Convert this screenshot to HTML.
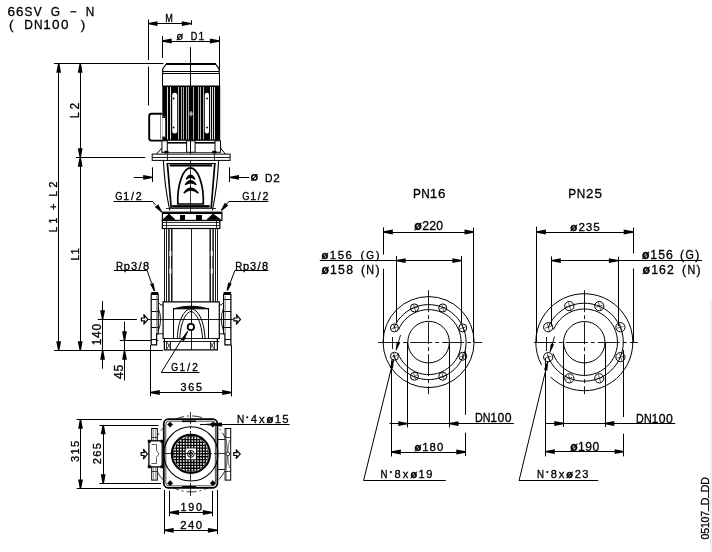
<!DOCTYPE html>
<html><head><meta charset="utf-8"><style>
html,body{margin:0;padding:0;background:#fff;}
svg{display:block;will-change:transform;}
text{font-family:"Liberation Sans",sans-serif;fill:#000;stroke:#000;stroke-width:0.32px;}
</style></head><body>
<svg width="712" height="552" viewBox="0 0 712 552">
<rect width="712" height="552" fill="#fff"/>
<text transform="translate(7.61,15.6) scale(1.0,1)" font-size="13.5">6</text><text transform="translate(15.94,15.6) scale(1.0,1)" font-size="13.5">6</text><text transform="translate(24.41,15.6) scale(0.88,1)" font-size="13.5">S</text><text transform="translate(33.83,15.6) scale(0.88,1)" font-size="13.5">V</text>
<text transform="translate(50.7,15.6) scale(0.88,1)" font-size="13.5">G</text>
<rect x="70.4" y="11.2" width="6" height="1.2" fill="#000" stroke="none" stroke-width="1" />
<text transform="translate(85.83,15.6) scale(0.88,1)" font-size="13.5">N</text>
<text transform="translate(9.06,28.9) scale(1.0,1)" font-size="13.5">(</text>
<text transform="translate(24.33,28.9) scale(0.88,1)" font-size="13.5">D</text><text transform="translate(33.96,28.9) scale(0.88,1)" font-size="13.5">N</text><text transform="translate(43.14,28.9) scale(1.0,1)" font-size="13.5">1</text><text transform="translate(52.07,28.9) scale(1.0,1)" font-size="13.5">0</text><text transform="translate(61.12,28.9) scale(1.0,1)" font-size="13.5">0</text>
<text transform="translate(80.72,28.9) scale(1.0,1)" font-size="13.5">)</text>
<line x1="54" y1="63.5" x2="163.5" y2="63.5" stroke="#000" stroke-width="1" />
<line x1="54" y1="350.5" x2="163" y2="350.5" stroke="#000" stroke-width="1" />
<line x1="58.5" y1="63.5" x2="58.5" y2="350.5" stroke="#000" stroke-width="1" />
<path d="M59.4,63.5 L61.1,72.8 L56.3,72.8 L58,63.5 Z" fill="#000"/>
<path d="M58,350.5 L56.3,341.2 L61.1,341.2 L59.4,350.5 Z" fill="#000"/>
<line x1="80.5" y1="63.5" x2="80.5" y2="350.5" stroke="#000" stroke-width="1" />
<path d="M80.9,63.5 L82.6,72.8 L77.8,72.8 L79.5,63.5 Z" fill="#000"/>
<path d="M79.5,157.5 L77.8,148.2 L82.6,148.2 L80.9,157.5 Z" fill="#000"/>
<path d="M80.9,157.5 L82.6,166.8 L77.8,166.8 L79.5,157.5 Z" fill="#000"/>
<path d="M79.5,350.5 L77.8,341.2 L82.6,341.2 L80.9,350.5 Z" fill="#000"/>
<line x1="75.9" y1="157.5" x2="145.1" y2="157.5" stroke="#000" stroke-width="1" />
<text transform="translate(79,117.1) rotate(-90) translate(-0.86,0) scale(0.88,1)" font-size="11.92">L</text><text transform="translate(79,117.1) rotate(-90) translate(7.57,0) scale(1.0,1)" font-size="11.92">2</text>
<text transform="translate(57.1,231.4) rotate(-90) translate(-0.81,0) scale(0.88,1)" font-size="11.19">L</text><text transform="translate(57.1,231.4) rotate(-90) translate(7.72,0) scale(1.0,1)" font-size="11.19">1</text><text transform="translate(57.1,231.4) rotate(-90) translate(21.3,0) scale(1.0,1)" font-size="11.19">+</text><text transform="translate(57.1,231.4) rotate(-90) translate(34.93,0) scale(0.88,1)" font-size="11.19">L</text><text transform="translate(57.1,231.4) rotate(-90) translate(43.74,0) scale(1.0,1)" font-size="11.19">2</text>
<text transform="translate(79,259.7) rotate(-90) translate(-0.82,0) scale(0.88,1)" font-size="11.34">L</text><text transform="translate(79,259.7) rotate(-90) translate(5.15,0) scale(1.0,1)" font-size="11.34">1</text>
<line x1="102.5" y1="301" x2="102.5" y2="368.7" stroke="#000" stroke-width="1" />
<path d="M101.9,319.5 L100.2,310.2 L105,310.2 L103.3,319.5 Z" fill="#000"/>
<path d="M103.3,350.5 L105,359.8 L100.2,359.8 L101.9,350.5 Z" fill="#000"/>
<line x1="97.7" y1="319.5" x2="135.7" y2="319.5" stroke="#000" stroke-width="1" />
<text transform="translate(101.3,344.3) rotate(-90) translate(-0.91,0) scale(1.0,1)" font-size="11.92">1</text><text transform="translate(101.3,344.3) rotate(-90) translate(6.39,0) scale(1.0,1)" font-size="11.92">4</text><text transform="translate(101.3,344.3) rotate(-90) translate(13.74,0) scale(1.0,1)" font-size="11.92">0</text>
<line x1="124.5" y1="321.7" x2="124.5" y2="380.5" stroke="#000" stroke-width="1" />
<path d="M123.8,340.5 L122.1,331.2 L126.9,331.2 L125.2,340.5 Z" fill="#000"/>
<path d="M125.2,350.5 L126.9,359.8 L122.1,359.8 L123.8,350.5 Z" fill="#000"/>
<line x1="119.8" y1="340.5" x2="158.3" y2="340.5" stroke="#000" stroke-width="1" />
<text transform="translate(123.4,378.7) rotate(-90) translate(-0.28,0) scale(1.0,1)" font-size="12.35">4</text><text transform="translate(123.4,378.7) rotate(-90) translate(7.25,0) scale(1.0,1)" font-size="12.35">5</text>
<line x1="148.5" y1="19.4" x2="148.5" y2="60" stroke="#000" stroke-width="1" />
<line x1="148.5" y1="66.6" x2="148.5" y2="105.6" stroke="#000" stroke-width="1" />
<line x1="191.5" y1="20.2" x2="191.5" y2="25" stroke="#000" stroke-width="1" />
<line x1="148.2" y1="23.5" x2="191.1" y2="23.5" stroke="#000" stroke-width="1" />
<path d="M148.2,22.9 L157.5,21.2 L157.5,26 L148.2,24.3 Z" fill="#000"/>
<path d="M191.1,24.3 L181.8,26 L181.8,21.2 L191.1,22.9 Z" fill="#000"/>
<text transform="translate(165.36,21.9) scale(0.88,1)" font-size="10.32">M</text>
<line x1="162.5" y1="36" x2="162.5" y2="58" stroke="#000" stroke-width="1" />
<line x1="219.5" y1="36.2" x2="219.5" y2="70" stroke="#000" stroke-width="1" />
<line x1="162.4" y1="41.5" x2="219.2" y2="41.5" stroke="#000" stroke-width="1" />
<path d="M162.4,40.3 L171.7,38.6 L171.7,43.4 L162.4,41.7 Z" fill="#000"/>
<path d="M219.2,41.7 L209.9,43.4 L209.9,38.6 L219.2,40.3 Z" fill="#000"/>
<text x="176.2" y="40" font-size="10.2" textLength="7" lengthAdjust="spacingAndGlyphs">ø</text>
<text transform="translate(190.66,40) scale(0.88,1)" font-size="10.32">D</text><text transform="translate(198.46,40) scale(1.0,1)" font-size="10.32">1</text>
<line x1="190.5" y1="47.2" x2="190.5" y2="86" stroke="#000" stroke-width="1" />
<line x1="152.5" y1="167.3" x2="152.5" y2="182" stroke="#000" stroke-width="1" />
<line x1="229.5" y1="167.3" x2="229.5" y2="182" stroke="#000" stroke-width="1" />
<line x1="133.8" y1="177.5" x2="152.5" y2="177.5" stroke="#000" stroke-width="1" />
<line x1="229.7" y1="177.5" x2="249.3" y2="177.5" stroke="#000" stroke-width="1" />
<path d="M152.5,178.1 L143.2,179.8 L143.2,175 L152.5,176.7 Z" fill="#000"/>
<path d="M229.7,176.7 L239,175 L239,179.8 L229.7,178.1 Z" fill="#000"/>
<circle cx="254.4" cy="177.4" r="2.7" stroke="#000" stroke-width="1.5" fill="none" />
<line x1="251.4" y1="180.6" x2="257.4" y2="174.2" stroke="#000" stroke-width="1.1" />
<text transform="translate(264.95,181.6) scale(0.88,1)" font-size="11.77">D</text><text transform="translate(273.14,181.6) scale(1.0,1)" font-size="11.77">2</text>
<text transform="translate(242.13,200.4) scale(0.88,1)" font-size="10.61">G</text><text transform="translate(250.17,200.4) scale(1.0,1)" font-size="10.61">1</text><text transform="translate(257.84,200.4) scale(1.0,1)" font-size="10.61">/</text><text transform="translate(262.53,200.4) scale(1.0,1)" font-size="10.61">2</text>
<line x1="228.5" y1="201.5" x2="268.4" y2="201.5" stroke="#000" stroke-width="1" />
<line x1="228.5" y1="201.8" x2="226" y2="204.8" stroke="#000" stroke-width="1" />
<path d="M220.81,210.28 L224.88,202.63 L228.29,205.41 L221.59,210.92 Z" fill="#000"/>
<text transform="translate(115.33,200.4) scale(0.88,1)" font-size="10.61">G</text><text transform="translate(123.34,200.4) scale(1.0,1)" font-size="10.61">1</text><text transform="translate(130.97,200.4) scale(1.0,1)" font-size="10.61">/</text><text transform="translate(135.63,200.4) scale(1.0,1)" font-size="10.61">2</text>
<line x1="113.5" y1="201.5" x2="152.9" y2="201.5" stroke="#000" stroke-width="1" />
<line x1="152.9" y1="201.8" x2="155.5" y2="205" stroke="#000" stroke-width="1" />
<path d="M161.51,212.52 L154.81,207.01 L158.22,204.23 L162.29,211.88 Z" fill="#000"/>
<text transform="translate(116,269.6) scale(0.88,1)" font-size="11.05">R</text><text transform="translate(123.78,269.6) scale(1.0,1)" font-size="11.05">p</text><text transform="translate(130.95,269.6) scale(1.0,1)" font-size="11.05">3</text><text transform="translate(138.53,269.6) scale(1.0,1)" font-size="11.05">/</text><text transform="translate(143.04,269.6) scale(1.0,1)" font-size="11.05">8</text>
<line x1="113.9" y1="270.5" x2="147.2" y2="270.5" stroke="#000" stroke-width="1" />
<line x1="147.2" y1="270.6" x2="151.5" y2="283" stroke="#000" stroke-width="1" />
<path d="M153.84,291.14 L150.02,284.03 L153.4,282.77 L155.16,290.66 Z" fill="#000"/>
<text transform="translate(235.2,269.6) scale(0.88,1)" font-size="11.05">R</text><text transform="translate(242.9,269.6) scale(1.0,1)" font-size="11.05">p</text><text transform="translate(250,269.6) scale(1.0,1)" font-size="11.05">3</text><text transform="translate(257.5,269.6) scale(1.0,1)" font-size="11.05">/</text><text transform="translate(261.94,269.6) scale(1.0,1)" font-size="11.05">8</text>
<line x1="234.8" y1="270.5" x2="268.3" y2="270.5" stroke="#000" stroke-width="1" />
<line x1="234.8" y1="270.6" x2="230.2" y2="283" stroke="#000" stroke-width="1" />
<path d="M226.54,290.26 L228.3,282.37 L231.68,283.63 L227.86,290.74 Z" fill="#000"/>
<line x1="150.5" y1="345" x2="150.5" y2="396.4" stroke="#000" stroke-width="1" />
<line x1="231.5" y1="345" x2="231.5" y2="396.4" stroke="#000" stroke-width="1" />
<line x1="150.5" y1="392.5" x2="231.5" y2="392.5" stroke="#000" stroke-width="1" />
<path d="M150.5,391.8 L159.8,390.1 L159.8,394.9 L150.5,393.2 Z" fill="#000"/>
<path d="M231.5,393.2 L222.2,394.9 L222.2,390.1 L231.5,391.8 Z" fill="#000"/>
<text transform="translate(180.49,390.7) scale(1.0,1)" font-size="10.76">3</text><text transform="translate(188.17,390.7) scale(1.0,1)" font-size="10.76">6</text><text transform="translate(195.97,390.7) scale(1.0,1)" font-size="10.76">5</text>
<text transform="translate(171.26,370.9) scale(0.88,1)" font-size="10.03">G</text><text transform="translate(179.38,370.9) scale(1.0,1)" font-size="10.03">1</text><text transform="translate(187.16,370.9) scale(1.0,1)" font-size="10.03">/</text><text transform="translate(192.13,370.9) scale(1.0,1)" font-size="10.03">2</text>
<line x1="161.3" y1="372.5" x2="199.5" y2="372.5" stroke="#000" stroke-width="1" />
<line x1="161.3" y1="372.4" x2="182.5" y2="338" stroke="#000" stroke-width="1" />
<path d="M187.5,331.5 L181.5,339.5 L183.8,340.5 Z" stroke="#000" stroke-width="1" fill="#000" />
<path d="M162.7,73.5 L162.7,69 L166.3,64 L215.5,64 L219.2,69 L219.2,73.5" stroke="#000" stroke-width="1.2" fill="none" />
<line x1="166" y1="64" x2="216" y2="64" stroke="#000" stroke-width="2" />
<line x1="162.7" y1="71.5" x2="219.2" y2="71.5" stroke="#000" stroke-width="1" />
<line x1="162.7" y1="73.5" x2="219.2" y2="73.5" stroke="#000" stroke-width="1" />
<line x1="162.5" y1="73.5" x2="162.5" y2="86" stroke="#000" stroke-width="1" />
<line x1="219.5" y1="73.5" x2="219.5" y2="86" stroke="#000" stroke-width="1" />
<rect x="162.3" y="85.5" width="57.9" height="55.3" fill="#000" stroke="none" stroke-width="1" />
<rect x="167" y="87" width="1" height="52.5" fill="#dcdcdc" stroke="none" stroke-width="1" />
<rect x="170" y="87" width="1" height="52.5" fill="#dcdcdc" stroke="none" stroke-width="1" />
<rect x="178" y="87" width="1" height="52.5" fill="#b0b0b0" stroke="none" stroke-width="1" />
<rect x="181" y="87" width="1" height="52.5" fill="#b0b0b0" stroke="none" stroke-width="1" />
<rect x="183" y="87" width="1" height="52.5" fill="#b0b0b0" stroke="none" stroke-width="1" />
<rect x="186" y="87" width="1" height="52.5" fill="#b0b0b0" stroke="none" stroke-width="1" />
<rect x="188" y="87" width="1" height="52.5" fill="#b0b0b0" stroke="none" stroke-width="1" />
<rect x="193" y="87" width="1" height="52.5" fill="#b0b0b0" stroke="none" stroke-width="1" />
<rect x="198" y="87" width="1" height="52.5" fill="#b0b0b0" stroke="none" stroke-width="1" />
<rect x="200" y="87" width="1" height="52.5" fill="#b0b0b0" stroke="none" stroke-width="1" />
<rect x="203" y="87" width="1" height="52.5" fill="#b0b0b0" stroke="none" stroke-width="1" />
<rect x="210" y="87" width="1" height="52.5" fill="#dcdcdc" stroke="none" stroke-width="1" />
<rect x="212" y="87" width="1" height="52.5" fill="#dcdcdc" stroke="none" stroke-width="1" />
<rect x="214" y="87" width="1" height="52.5" fill="#dcdcdc" stroke="none" stroke-width="1" />
<path d="M191,111 L193,113.8 L191,116.6 L189,113.8 Z" stroke="#888" stroke-width="0.5" fill="#aaa" />
<rect x="172.2" y="92.8" width="5" height="40.6" fill="#fff" stroke="none" stroke-width="1" rx="2.5"/>
<rect x="204.8" y="92.8" width="4.2" height="40.6" fill="#fff" stroke="none" stroke-width="1" rx="2"/>
<circle cx="173.6" cy="98.5" r="0.9" stroke="#000" stroke-width="0" fill="#000" />
<circle cx="173.6" cy="127.5" r="0.9" stroke="#000" stroke-width="0" fill="#000" />
<circle cx="207" cy="98.5" r="0.9" stroke="#000" stroke-width="0" fill="#000" />
<circle cx="207" cy="127.5" r="0.9" stroke="#000" stroke-width="0" fill="#000" />
<path d="M162,113.7 L151.5,113.7 Q149.2,113.7 149.2,116 L149.2,138.6 Q149.2,140.6 151.5,140.6 L162,140.6" stroke="#000" stroke-width="1.9" fill="#fff" />
<line x1="160.5" y1="115" x2="160.5" y2="139.5" stroke="#888" stroke-width="1" />
<rect x="162.3" y="116.7" width="2.9" height="21.1" fill="#fff" stroke="none" stroke-width="1" />
<rect x="162.3" y="116.7" width="2.9" height="1.2" fill="#000" stroke="none" stroke-width="1" />
<rect x="162.3" y="136.6" width="2.9" height="1.2" fill="#000" stroke="none" stroke-width="1" />
<rect x="161.9" y="140.8" width="5.4" height="11.5" fill="#fff" stroke="#000" stroke-width="1" />
<rect x="186.6" y="140.8" width="8.5" height="11.5" fill="#fff" stroke="#000" stroke-width="1" />
<rect x="215" y="140.8" width="5.5" height="11.5" fill="#fff" stroke="#000" stroke-width="1" />
<line x1="167.3" y1="142.8" x2="186.6" y2="142.8" stroke="#000" stroke-width="1.6" />
<line x1="195.1" y1="142.8" x2="215" y2="142.8" stroke="#000" stroke-width="1.6" />
<line x1="156.5" y1="154" x2="161.9" y2="148" stroke="#000" stroke-width="1" />
<line x1="225.3" y1="154" x2="220.5" y2="148" stroke="#000" stroke-width="1" />
<line x1="167.3" y1="152.5" x2="186.6" y2="152.5" stroke="#000" stroke-width="0.7" />
<line x1="195.1" y1="152.5" x2="215" y2="152.5" stroke="#000" stroke-width="0.7" />
<rect x="164.5" y="150.8" width="4" height="2.6" fill="#000" stroke="none" stroke-width="1" />
<rect x="212.3" y="150.8" width="4" height="2.6" fill="#000" stroke="none" stroke-width="1" />
<line x1="190.5" y1="140" x2="190.5" y2="160" stroke="#000" stroke-width="1" />
<rect x="152.2" y="154.1" width="77.9" height="6.3" fill="#fff" stroke="#000" stroke-width="1" />
<line x1="152.2" y1="157.5" x2="230.1" y2="157.5" stroke="#000" stroke-width="0.9" />
<line x1="167.5" y1="154" x2="167.5" y2="160.4" stroke="#000" stroke-width="0.8" />
<line x1="214.5" y1="154" x2="214.5" y2="160.4" stroke="#000" stroke-width="0.8" />
<path d="M163.4,160.4 Q164.5,186 169.8,210.5" stroke="#000" stroke-width="1.1" fill="none" />
<path d="M218.6,160.4 Q217.5,186 212.4,210.5" stroke="#000" stroke-width="1.1" fill="none" />
<line x1="166.6" y1="163.5" x2="215.8" y2="163.5" stroke="#000" stroke-width="1" />
<line x1="169.7" y1="165.4" x2="212.2" y2="165.4" stroke="#000" stroke-width="2.2" />
<path d="M167.4,163.6 L171.2,208" stroke="#000" stroke-width="1.7" fill="none" />
<path d="M214.8,163.6 L211.2,208" stroke="#000" stroke-width="1.7" fill="none" />
<path d="M177.8,204 C177,185 183,168 190.4,167.8 C198,168 204,185 203.3,204 Z" stroke="#000" stroke-width="1.7" fill="none" />
<path d="M186.2,179.2 Q190.5,171.3 195.0,179.2 Q190.5,175.3 186.2,179.2 Z" stroke="#000" stroke-width="1.3" fill="#000" />
<path d="M185.2,184.8 Q190.5,176.7 196.2,184.8 Q190.5,180.7 185.2,184.8 Z" stroke="#000" stroke-width="1.3" fill="#000" />
<path d="M183.8,193.2 Q190.5,182.9 198.4,193.2 Q190.5,186.9 183.8,193.2 Z" stroke="#000" stroke-width="1.3" fill="#000" />
<line x1="190.5" y1="160" x2="190.5" y2="212" stroke="#000" stroke-width="0.8" />
<rect x="172.2" y="205.1" width="37.5" height="2.6" fill="#000" stroke="none" stroke-width="1" />
<line x1="166" y1="208.5" x2="216" y2="208.5" stroke="#000" stroke-width="0.8" />
<rect x="162.4" y="212.2" width="59.5" height="1.8" fill="#000" stroke="none" stroke-width="1" />
<path d="M163,219.5 L169,214 L175,219.5 Z" stroke="#000" stroke-width="0.8" fill="#000" />
<path d="M207,219.5 L213,214 L220.5,219.5 Z" stroke="#000" stroke-width="0.8" fill="#000" />
<rect x="162.4" y="212.2" width="59.5" height="8.3" fill="none" stroke="#000" stroke-width="1.2" />
<rect x="180" y="215" width="5" height="5" fill="#000" stroke="none" stroke-width="1" />
<rect x="196" y="215" width="6" height="5" fill="#000" stroke="none" stroke-width="1" />
<rect x="162.4" y="220.5" width="57.4" height="8" fill="#fff" stroke="#000" stroke-width="1.2" />
<line x1="162.4" y1="222.5" x2="219.8" y2="222.5" stroke="#000" stroke-width="0.8" />
<line x1="162.4" y1="225.5" x2="219.8" y2="225.5" stroke="#000" stroke-width="0.8" />
<line x1="166.5" y1="220.5" x2="166.5" y2="228.5" stroke="#000" stroke-width="0.8" />
<line x1="216.5" y1="220.5" x2="216.5" y2="228.5" stroke="#000" stroke-width="0.8" />
<line x1="164.5" y1="228.5" x2="164.5" y2="301.8" stroke="#000" stroke-width="0.9" />
<line x1="166.5" y1="228.5" x2="166.5" y2="301.8" stroke="#000" stroke-width="0.9" />
<line x1="168.9" y1="228.5" x2="168.9" y2="301.8" stroke="#000" stroke-width="1.4" />
<line x1="171.8" y1="228.5" x2="171.8" y2="301.8" stroke="#000" stroke-width="1.4" />
<line x1="210.2" y1="228.5" x2="210.2" y2="301.8" stroke="#000" stroke-width="1.4" />
<line x1="213.1" y1="228.5" x2="213.1" y2="301.8" stroke="#000" stroke-width="1.4" />
<line x1="215.5" y1="228.5" x2="215.5" y2="301.8" stroke="#000" stroke-width="0.9" />
<line x1="217.5" y1="228.5" x2="217.5" y2="301.8" stroke="#000" stroke-width="0.9" />
<rect x="169.4" y="251" width="2" height="5" fill="#fff" stroke="none" stroke-width="1" />
<rect x="210.7" y="251" width="2" height="5" fill="#fff" stroke="none" stroke-width="1" />
<rect x="169.4" y="268.5" width="2" height="5" fill="#fff" stroke="none" stroke-width="1" />
<rect x="210.7" y="268.5" width="2" height="5" fill="#fff" stroke="none" stroke-width="1" />
<line x1="191.5" y1="228.5" x2="191.5" y2="350" stroke="#000" stroke-width="0.9" />
<path d="M163.1,301.8 L219.3,301.8 L219.3,338.5 L217.4,338.5 L217.4,349.8 L164.4,349.8 L164.4,338.5 L163.1,338.5 Z" stroke="#000" stroke-width="1.2" fill="none" />
<line x1="163.1" y1="338.5" x2="219.3" y2="338.5" stroke="#000" stroke-width="0.9" />
<line x1="163.1" y1="341.5" x2="219.3" y2="341.5" stroke="#000" stroke-width="0.9" />
<line x1="173.5" y1="308" x2="173.5" y2="338.6" stroke="#000" stroke-width="1" />
<line x1="208.5" y1="308" x2="208.5" y2="338.6" stroke="#000" stroke-width="1" />
<path d="M173.4,308.8 Q190.9,303.5 208.3,308.8 Z" stroke="#000" stroke-width="1" fill="#000" />
<path d="M177.3,338.6 C178,320 184,309 190.9,308.9 C198,309 204,320 205.1,338.6" stroke="#000" stroke-width="1" fill="none" />
<path d="M179.8,338.6 C180.5,322 186,312 190.9,311.5 C196,312 201.5,322 202.6,338.6" stroke="#000" stroke-width="1" fill="none" />
<circle cx="190.9" cy="327" r="3.2" stroke="#000" stroke-width="1.8" fill="#fff" />
<line x1="166.5" y1="341.5" x2="166.5" y2="349.5" stroke="#000" stroke-width="0.8" />
<line x1="170.5" y1="341.5" x2="170.5" y2="349.5" stroke="#000" stroke-width="0.8" />
<line x1="166.9" y1="342" x2="170.9" y2="349" stroke="#000" stroke-width="0.7" />
<line x1="170.9" y1="342" x2="166.9" y2="349" stroke="#000" stroke-width="0.7" />
<line x1="210.5" y1="341.5" x2="210.5" y2="349.5" stroke="#000" stroke-width="0.8" />
<line x1="214.5" y1="341.5" x2="214.5" y2="349.5" stroke="#000" stroke-width="0.8" />
<line x1="210.2" y1="342" x2="214.2" y2="349" stroke="#000" stroke-width="0.7" />
<line x1="214.2" y1="342" x2="210.2" y2="349" stroke="#000" stroke-width="0.7" />
<path d="M151.2,294.4 L158.2,294.4 L158.2,333.8 L156.6,333.8 L156.6,344.8 L151.2,344.8 Z" stroke="#000" stroke-width="1.2" fill="#fff" />
<rect x="151.2" y="292" width="7" height="2.6" fill="#000" stroke="none" stroke-width="1" />
<line x1="151.2" y1="299.5" x2="158.2" y2="299.5" stroke="#000" stroke-width="1" />
<line x1="151.2" y1="311.5" x2="158.2" y2="311.5" stroke="#000" stroke-width="1" />
<line x1="151.2" y1="319.5" x2="158.2" y2="319.5" stroke="#000" stroke-width="1" />
<line x1="151.2" y1="327.5" x2="158.2" y2="327.5" stroke="#000" stroke-width="1" />
<line x1="151.2" y1="339.5" x2="156.6" y2="339.5" stroke="#000" stroke-width="1" />
<line x1="156.5" y1="296" x2="156.5" y2="333" stroke="#777" stroke-width="0.7" />
<path d="M230.9,294.4 L223.6,294.4 L223.6,333.8 L224.9,333.8 L224.9,344.8 L230.9,344.8 Z" stroke="#000" stroke-width="1.2" fill="#fff" />
<rect x="223.6" y="292" width="7.3" height="2.6" fill="#000" stroke="none" stroke-width="1" />
<line x1="223.6" y1="299.5" x2="230.9" y2="299.5" stroke="#000" stroke-width="1" />
<line x1="223.6" y1="311.5" x2="230.9" y2="311.5" stroke="#000" stroke-width="1" />
<line x1="223.6" y1="319.5" x2="230.9" y2="319.5" stroke="#000" stroke-width="1" />
<line x1="223.6" y1="327.5" x2="230.9" y2="327.5" stroke="#000" stroke-width="1" />
<line x1="224.9" y1="339.5" x2="230.9" y2="339.5" stroke="#000" stroke-width="1" />
<line x1="225.5" y1="296" x2="225.5" y2="333" stroke="#777" stroke-width="0.7" />
<path d="M158.2,302.5 L161,305 L163.1,305 M158.2,333.8 L163.1,333.8" stroke="#000" stroke-width="0.9" fill="none" />
<path d="M223.6,302.5 L221,305 L219.3,305 M223.6,333.8 L219.3,333.8" stroke="#000" stroke-width="0.9" fill="none" />
<path d="M158.2,308 Q163,319.6 158.2,331" stroke="#000" stroke-width="0.9" fill="none" />
<path d="M223.6,308 Q219,319.6 223.6,331" stroke="#000" stroke-width="0.9" fill="none" />
<line x1="133" y1="319.5" x2="137" y2="319.5" stroke="#000" stroke-width="0.9" />
<line x1="148" y1="319.5" x2="233" y2="319.5" stroke="#000" stroke-width="0.9" />
<path d="M141.4,318 L144.48,318 L143.68,314.4 L147.9,319.4 L143.68,324.4 L144.48,320.8 L141.4,320.8 Z" stroke="#000" stroke-width="1.2" fill="#fff" />
<path d="M234,318 L237.08,318 L236.28,314.4 L240.5,319.4 L236.28,324.4 L237.08,320.8 L234,320.8 Z" stroke="#000" stroke-width="1.2" fill="#fff" />
<line x1="76.7" y1="419.5" x2="161.9" y2="419.5" stroke="#000" stroke-width="1" />
<line x1="76.7" y1="488.5" x2="161" y2="488.5" stroke="#000" stroke-width="1" />
<line x1="80.5" y1="419.4" x2="80.5" y2="488.8" stroke="#000" stroke-width="1" />
<path d="M81.2,419.4 L82.9,428.7 L78.1,428.7 L79.8,419.4 Z" fill="#000"/>
<path d="M79.8,488.8 L78.1,479.5 L82.9,479.5 L81.2,488.8 Z" fill="#000"/>
<text transform="translate(79.3,461.5) rotate(-90) translate(-0.42,0) scale(1.0,1)" font-size="11.05">3</text><text transform="translate(79.3,461.5) rotate(-90) translate(6.88,0) scale(1.0,1)" font-size="11.05">1</text><text transform="translate(79.3,461.5) rotate(-90) translate(14.52,0) scale(1.0,1)" font-size="11.05">5</text>
<line x1="99.5" y1="425.5" x2="158.5" y2="425.5" stroke="#000" stroke-width="1" />
<line x1="99.5" y1="483.5" x2="160.9" y2="483.5" stroke="#000" stroke-width="1" />
<line x1="103.5" y1="425" x2="103.5" y2="483.6" stroke="#000" stroke-width="1" />
<path d="M103.9,425 L105.6,434.3 L100.8,434.3 L102.5,425 Z" fill="#000"/>
<path d="M102.5,483.6 L100.8,474.3 L105.6,474.3 L103.9,483.6 Z" fill="#000"/>
<text transform="translate(101.2,463.7) rotate(-90) translate(-0.56,0) scale(1.0,1)" font-size="11.05">2</text><text transform="translate(101.2,463.7) rotate(-90) translate(6.89,0) scale(1.0,1)" font-size="11.05">6</text><text transform="translate(101.2,463.7) rotate(-90) translate(14.52,0) scale(1.0,1)" font-size="11.05">5</text>
<line x1="169.5" y1="490.9" x2="169.5" y2="516.3" stroke="#000" stroke-width="1" />
<line x1="212.5" y1="490.9" x2="212.5" y2="516.3" stroke="#000" stroke-width="1" />
<line x1="169.7" y1="512.5" x2="212.1" y2="512.5" stroke="#000" stroke-width="1" />
<path d="M169.7,511.8 L179,510.1 L179,514.9 L169.7,513.2 Z" fill="#000"/>
<path d="M212.1,513.2 L202.8,514.9 L202.8,510.1 L212.1,511.8 Z" fill="#000"/>
<text transform="translate(180.58,510.6) scale(1.0,1)" font-size="10.76">1</text><text transform="translate(188.21,510.6) scale(1.0,1)" font-size="10.76">9</text><text transform="translate(195.94,510.6) scale(1.0,1)" font-size="10.76">0</text>
<line x1="164.5" y1="490" x2="164.5" y2="534.1" stroke="#000" stroke-width="1" />
<line x1="217.5" y1="490" x2="217.5" y2="534.1" stroke="#000" stroke-width="1" />
<line x1="164.4" y1="530.5" x2="217.2" y2="530.5" stroke="#000" stroke-width="1" />
<path d="M164.4,529.6 L173.7,527.9 L173.7,532.7 L164.4,531 Z" fill="#000"/>
<path d="M217.2,531 L207.9,532.7 L207.9,527.9 L217.2,529.6 Z" fill="#000"/>
<text transform="translate(180.33,528.7) scale(1.0,1)" font-size="11.34">2</text><text transform="translate(187.96,528.7) scale(1.0,1)" font-size="11.34">4</text><text transform="translate(195.64,528.7) scale(1.0,1)" font-size="11.34">0</text>
<circle cx="190.9" cy="453.9" r="38" stroke="#000" stroke-width="0.8" fill="none" stroke-dasharray="10,3,2,3"/>
<rect x="163.8" y="419.2" width="53.6" height="68.6" fill="#fff" stroke="#000" stroke-width="1.8" rx="4.5"/>
<rect x="165.8" y="421.2" width="49.6" height="64.6" fill="none" stroke="#000" stroke-width="0.7" rx="3"/>
<path d="M167.5,424.6 L170.1,422.0 L172.7,424.6 L170.1,427.20000000000005 Z" stroke="#000" stroke-width="0.6" fill="#000" />
<path d="M210.20000000000002,424.6 L212.8,422.0 L215.4,424.6 L212.8,427.20000000000005 Z" stroke="#000" stroke-width="0.6" fill="#000" />
<path d="M167.5,483.2 L170.1,480.59999999999997 L172.7,483.2 L170.1,485.8 Z" stroke="#000" stroke-width="0.6" fill="#000" />
<path d="M210.20000000000002,483.2 L212.8,480.59999999999997 L215.4,483.2 L212.8,485.8 Z" stroke="#000" stroke-width="0.6" fill="#000" />
<rect x="182" y="420.5" width="14" height="1.6" fill="#000" stroke="none" stroke-width="1" />
<rect x="182" y="486" width="14" height="1.6" fill="#000" stroke="none" stroke-width="1" />
<circle cx="190.9" cy="453.9" r="27.1" stroke="#000" stroke-width="1.1" fill="none" />
<clipPath id="gc"><circle cx="190.9" cy="453.9" r="17.6"/></clipPath>
<g clip-path="url(#gc)"><line x1="170.81" y1="434" x2="170.81" y2="474" stroke="#000" stroke-width="1.3"/><line x1="171" y1="433.81" x2="211" y2="433.81" stroke="#000" stroke-width="1.3"/><line x1="173.68" y1="434" x2="173.68" y2="474" stroke="#000" stroke-width="1.3"/><line x1="171" y1="436.68" x2="211" y2="436.68" stroke="#000" stroke-width="1.3"/><line x1="176.55" y1="434" x2="176.55" y2="474" stroke="#000" stroke-width="1.3"/><line x1="171" y1="439.55" x2="211" y2="439.55" stroke="#000" stroke-width="1.3"/><line x1="179.42" y1="434" x2="179.42" y2="474" stroke="#000" stroke-width="1.3"/><line x1="171" y1="442.42" x2="211" y2="442.42" stroke="#000" stroke-width="1.3"/><line x1="182.29" y1="434" x2="182.29" y2="474" stroke="#000" stroke-width="1.3"/><line x1="171" y1="445.29" x2="211" y2="445.29" stroke="#000" stroke-width="1.3"/><line x1="185.16" y1="434" x2="185.16" y2="474" stroke="#000" stroke-width="1.3"/><line x1="171" y1="448.16" x2="211" y2="448.16" stroke="#000" stroke-width="1.3"/><line x1="188.03" y1="434" x2="188.03" y2="474" stroke="#000" stroke-width="1.3"/><line x1="171" y1="451.03" x2="211" y2="451.03" stroke="#000" stroke-width="1.3"/><line x1="190.9" y1="434" x2="190.9" y2="474" stroke="#000" stroke-width="1.3"/><line x1="171" y1="453.9" x2="211" y2="453.9" stroke="#000" stroke-width="1.3"/><line x1="193.77" y1="434" x2="193.77" y2="474" stroke="#000" stroke-width="1.3"/><line x1="171" y1="456.77" x2="211" y2="456.77" stroke="#000" stroke-width="1.3"/><line x1="196.64" y1="434" x2="196.64" y2="474" stroke="#000" stroke-width="1.3"/><line x1="171" y1="459.64" x2="211" y2="459.64" stroke="#000" stroke-width="1.3"/><line x1="199.51" y1="434" x2="199.51" y2="474" stroke="#000" stroke-width="1.3"/><line x1="171" y1="462.51" x2="211" y2="462.51" stroke="#000" stroke-width="1.3"/><line x1="202.38" y1="434" x2="202.38" y2="474" stroke="#000" stroke-width="1.3"/><line x1="171" y1="465.38" x2="211" y2="465.38" stroke="#000" stroke-width="1.3"/><line x1="205.25" y1="434" x2="205.25" y2="474" stroke="#000" stroke-width="1.3"/><line x1="171" y1="468.25" x2="211" y2="468.25" stroke="#000" stroke-width="1.3"/><line x1="208.12" y1="434" x2="208.12" y2="474" stroke="#000" stroke-width="1.3"/><line x1="171" y1="471.12" x2="211" y2="471.12" stroke="#000" stroke-width="1.3"/><line x1="210.99" y1="434" x2="210.99" y2="474" stroke="#000" stroke-width="1.3"/><line x1="171" y1="473.99" x2="211" y2="473.99" stroke="#000" stroke-width="1.3"/></g>
<circle cx="190.9" cy="453.9" r="19" stroke="#000" stroke-width="2.2" fill="none" />
<rect x="185.8" y="448.5" width="10.1" height="10.8" fill="#fff" stroke="none" stroke-width="1" />
<circle cx="190.9" cy="453.9" r="3.4" stroke="#000" stroke-width="1" fill="none" />
<circle cx="190.9" cy="453.9" r="1.6" stroke="#000" stroke-width="0.9" fill="none" />
<line x1="162" y1="453.5" x2="225" y2="453.5" stroke="#000" stroke-width="0.8" stroke-dasharray="12,2,3,2"/>
<line x1="190.5" y1="412" x2="190.5" y2="496" stroke="#000" stroke-width="0.8" stroke-dasharray="12,2,3,2"/>
<rect x="151.7" y="428.5" width="5.6" height="51.6" fill="#fff" stroke="#000" stroke-width="1" />
<line x1="153.5" y1="429" x2="153.5" y2="480" stroke="#666" stroke-width="0.6" />
<line x1="155.5" y1="429" x2="155.5" y2="480" stroke="#666" stroke-width="0.6" />
<line x1="151.9" y1="437.5" x2="157.3" y2="437.5" stroke="#000" stroke-width="0.7" />
<line x1="151.9" y1="471.5" x2="157.3" y2="471.5" stroke="#000" stroke-width="0.7" />
<rect x="148.9" y="440.8" width="13.3" height="26.1" fill="#fff" stroke="#000" stroke-width="1.3" />
<rect x="147.8" y="439.8" width="3" height="3" fill="#000" stroke="none" stroke-width="1" />
<rect x="147.8" y="465.2" width="3" height="3" fill="#000" stroke="none" stroke-width="1" />
<rect x="160.5" y="439.8" width="2.5" height="3" fill="#000" stroke="none" stroke-width="1" />
<rect x="160.5" y="465.2" width="2.5" height="3" fill="#000" stroke="none" stroke-width="1" />
<path d="M151.5,444.5 L156.5,444.5 L156.5,450.5 L159,453.9 L156.5,457.3 L156.5,463.5 L151.5,463.5" stroke="#333" stroke-width="0.8" fill="none" />
<line x1="162.2" y1="444.5" x2="163.8" y2="444.5" stroke="#000" stroke-width="0.8" />
<line x1="162.2" y1="464.5" x2="163.8" y2="464.5" stroke="#000" stroke-width="0.8" />
<rect x="225.1" y="428.5" width="5.6" height="51.6" fill="#fff" stroke="#000" stroke-width="1" />
<line x1="226.5" y1="429" x2="226.5" y2="480" stroke="#666" stroke-width="0.6" />
<line x1="225.1" y1="437.5" x2="230.7" y2="437.5" stroke="#000" stroke-width="0.7" />
<line x1="225.1" y1="471.5" x2="230.7" y2="471.5" stroke="#000" stroke-width="0.7" />
<line x1="217.4" y1="439.5" x2="225.1" y2="439.5" stroke="#000" stroke-width="0.9" />
<line x1="217.4" y1="469.5" x2="225.1" y2="469.5" stroke="#000" stroke-width="0.9" />
<path d="M226,440 Q229.5,454 226,468 M229.5,440 Q226,454 229.5,468" stroke="#444" stroke-width="0.7" fill="none" />
<circle cx="227.8" cy="453.9" r="1.8" stroke="#000" stroke-width="0.8" fill="#fff" />
<text transform="translate(236.98,423.2) scale(0.88,1)" font-size="11.34">N</text><circle cx="247.25" cy="417.27" r="1.05" fill="#000"/><text transform="translate(250.87,423.2) scale(1.0,1)" font-size="11.34">4</text><text transform="translate(259,423.2) scale(1.0,1)" font-size="11.34">x</text><text transform="translate(266.59,423.2) scale(1.0,1)" font-size="11.34"><tspan font-weight="bold">ø</tspan></text><text transform="translate(274.68,423.2) scale(1.0,1)" font-size="11.34">1</text><text transform="translate(282.27,423.2) scale(1.0,1)" font-size="11.34">5</text>
<line x1="200" y1="424.5" x2="289.6" y2="424.5" stroke="#000" stroke-width="1" />
<path d="M200,424.4 L222,422.4 L222,426.4 Z" fill="#000"/>
<path d="M141.2,452.7 L144.17,452.7 L143.37,449.1 L147.4,454.1 L143.37,459.1 L144.17,455.5 L141.2,455.5 Z" stroke="#000" stroke-width="1.2" fill="#fff" />
<path d="M233.8,452.7 L236.84,452.7 L236.04,449.6 L240.2,454.1 L236.04,458.6 L236.84,455.5 L233.8,455.5 Z" stroke="#000" stroke-width="1.2" fill="#fff" />
<text transform="translate(412.93,197.5) scale(0.88,1)" font-size="13.37">P</text><text transform="translate(421.24,197.5) scale(0.88,1)" font-size="13.37">N</text><text transform="translate(429.8,197.5) scale(1.0,1)" font-size="13.37">1</text><text transform="translate(437.95,197.5) scale(1.0,1)" font-size="13.37">6</text>
<circle cx="428.6" cy="342.1" r="45.5" stroke="#000" stroke-width="1" fill="none" />
<path d="M393.83,328.05 A37.5,37.5 0 1 1 393.36,354.93" stroke="#000" stroke-width="1" fill="none" />
<path d="M398.47,329.93 A32.5,32.5 0 1 1 398.06,353.22" stroke="#000" stroke-width="1" fill="none" />
<circle cx="428.6" cy="342.1" r="20.8" stroke="#000" stroke-width="1" fill="none" />
<circle cx="442.76" cy="307.92" r="4" stroke="#000" stroke-width="1" fill="none" />
<line x1="439.96" y1="308.72" x2="445.56" y2="307.12" stroke="#000" stroke-width="0.6" />
<line x1="441.96" y1="304.72" x2="443.96" y2="311.12" stroke="#000" stroke-width="0.6" />
<circle cx="462.78" cy="327.94" r="4" stroke="#000" stroke-width="1" fill="none" />
<line x1="459.98" y1="328.74" x2="465.58" y2="327.14" stroke="#000" stroke-width="0.6" />
<line x1="461.98" y1="324.74" x2="463.98" y2="331.14" stroke="#000" stroke-width="0.6" />
<circle cx="462.78" cy="356.26" r="4" stroke="#000" stroke-width="1" fill="none" />
<line x1="459.98" y1="357.06" x2="465.58" y2="355.46" stroke="#000" stroke-width="0.6" />
<line x1="461.98" y1="353.06" x2="463.98" y2="359.46" stroke="#000" stroke-width="0.6" />
<circle cx="442.76" cy="376.28" r="4" stroke="#000" stroke-width="1" fill="none" />
<line x1="439.96" y1="377.08" x2="445.56" y2="375.48" stroke="#000" stroke-width="0.6" />
<line x1="441.96" y1="373.08" x2="443.96" y2="379.48" stroke="#000" stroke-width="0.6" />
<circle cx="414.44" cy="376.28" r="4" stroke="#000" stroke-width="1" fill="none" />
<line x1="411.64" y1="377.08" x2="417.24" y2="375.48" stroke="#000" stroke-width="0.6" />
<line x1="413.64" y1="373.08" x2="415.64" y2="379.48" stroke="#000" stroke-width="0.6" />
<circle cx="394.42" cy="356.26" r="4" stroke="#000" stroke-width="1" fill="none" />
<line x1="391.62" y1="357.06" x2="397.22" y2="355.46" stroke="#000" stroke-width="0.6" />
<line x1="393.62" y1="353.06" x2="395.62" y2="359.46" stroke="#000" stroke-width="0.6" />
<circle cx="394.42" cy="327.94" r="4" stroke="#000" stroke-width="1" fill="none" />
<line x1="391.62" y1="328.74" x2="397.22" y2="327.14" stroke="#000" stroke-width="0.6" />
<line x1="393.62" y1="324.74" x2="395.62" y2="331.14" stroke="#000" stroke-width="0.6" />
<circle cx="414.44" cy="307.92" r="4" stroke="#000" stroke-width="1" fill="none" />
<line x1="411.64" y1="308.72" x2="417.24" y2="307.12" stroke="#000" stroke-width="0.6" />
<line x1="413.64" y1="304.72" x2="415.64" y2="311.12" stroke="#000" stroke-width="0.6" />
<line x1="378.1" y1="342.5" x2="482.1" y2="342.5" stroke="#000" stroke-width="0.9" stroke-dasharray="22,3,4,3"/>
<line x1="428.5" y1="290.1" x2="428.5" y2="394.1" stroke="#000" stroke-width="0.9" stroke-dasharray="22,3,4,3"/>
<line x1="383.5" y1="227.4" x2="383.5" y2="254.5" stroke="#000" stroke-width="1" />
<line x1="383.5" y1="268.7" x2="383.5" y2="342" stroke="#000" stroke-width="1" />
<line x1="473.5" y1="227.6" x2="473.5" y2="342" stroke="#000" stroke-width="1" />
<line x1="383.5" y1="232.5" x2="473.8" y2="232.5" stroke="#000" stroke-width="1" />
<path d="M383.5,231.3 L392.8,229.6 L392.8,234.4 L383.5,232.7 Z" fill="#000"/>
<path d="M473.8,232.7 L464.5,234.4 L464.5,229.6 L473.8,231.3 Z" fill="#000"/>
<text transform="translate(414.24,230.4) scale(1.0,1)" font-size="12.21"><tspan font-weight="bold">ø</tspan></text><text transform="translate(422.21,230.4) scale(1.0,1)" font-size="12.21">2</text><text transform="translate(429.18,230.4) scale(1.0,1)" font-size="12.21">2</text><text transform="translate(436.29,230.4) scale(1.0,1)" font-size="12.21">0</text>
<line x1="396.5" y1="256" x2="396.5" y2="323" stroke="#000" stroke-width="1" />
<line x1="461.5" y1="256" x2="461.5" y2="323" stroke="#000" stroke-width="1" />
<line x1="319.8" y1="260.5" x2="461.7" y2="260.5" stroke="#000" stroke-width="1" />
<path d="M396.3,259.9 L405.6,258.2 L405.6,263 L396.3,261.3 Z" fill="#000"/>
<path d="M461.7,261.3 L452.4,263 L452.4,258.2 L461.7,259.9 Z" fill="#000"/>
<text transform="translate(321.56,259.3) scale(1.0,1)" font-size="11.34"><tspan font-weight="bold">ø</tspan></text><text transform="translate(329.86,259.3) scale(1.0,1)" font-size="11.34">1</text><text transform="translate(337.67,259.3) scale(1.0,1)" font-size="11.34">5</text><text transform="translate(345.43,259.3) scale(1.0,1)" font-size="11.34">6</text><text transform="translate(360.56,259.3) scale(1.0,1)" font-size="11.34">(</text><text transform="translate(366.27,259.3) scale(0.88,1)" font-size="11.34">G</text><text transform="translate(375.73,259.3) scale(1.0,1)" font-size="11.34">)</text>
<text transform="translate(321.54,273.9) scale(1.0,1)" font-size="12.21"><tspan font-weight="bold">ø</tspan></text><text transform="translate(330.1,273.9) scale(1.0,1)" font-size="12.21">1</text><text transform="translate(338.12,273.9) scale(1.0,1)" font-size="12.21">5</text><text transform="translate(346.18,273.9) scale(1.0,1)" font-size="12.21">8</text><text transform="translate(360.94,273.9) scale(1.0,1)" font-size="12.21">(</text><text transform="translate(366.37,273.9) scale(0.88,1)" font-size="12.21">N</text><text transform="translate(375.49,273.9) scale(1.0,1)" font-size="12.21">)</text>
<line x1="407.5" y1="342" x2="407.5" y2="427.4" stroke="#000" stroke-width="1" />
<line x1="449.5" y1="342" x2="449.5" y2="427.4" stroke="#000" stroke-width="1" />
<line x1="389.5" y1="423.5" x2="513.8" y2="423.5" stroke="#000" stroke-width="1" />
<path d="M407.6,424.3 L398.3,426 L398.3,421.2 L407.6,422.9 Z" fill="#000"/>
<path d="M449.2,422.9 L458.5,421.2 L458.5,426 L449.2,424.3 Z" fill="#000"/>
<text transform="translate(474.92,422.1) scale(0.88,1)" font-size="12.21">D</text><text transform="translate(482.76,422.1) scale(0.88,1)" font-size="12.21">N</text><text transform="translate(490.18,422.1) scale(1.0,1)" font-size="12.21">1</text><text transform="translate(497.38,422.1) scale(1.0,1)" font-size="12.21">0</text><text transform="translate(504.69,422.1) scale(1.0,1)" font-size="12.21">0</text>
<line x1="391.5" y1="360.4" x2="391.5" y2="456.5" stroke="#000" stroke-width="1" />
<line x1="465.5" y1="351" x2="465.5" y2="414.8" stroke="#000" stroke-width="1" />
<line x1="465.5" y1="432.7" x2="465.5" y2="456" stroke="#000" stroke-width="1" />
<line x1="391.6" y1="452.5" x2="465.6" y2="452.5" stroke="#000" stroke-width="1" />
<path d="M391.6,451.3 L400.9,449.6 L400.9,454.4 L391.6,452.7 Z" fill="#000"/>
<path d="M465.6,452.7 L456.3,454.4 L456.3,449.6 L465.6,451.3 Z" fill="#000"/>
<text transform="translate(414.56,450.6) scale(1.0,1)" font-size="11.34"><tspan font-weight="bold">ø</tspan></text><text transform="translate(422.34,450.6) scale(1.0,1)" font-size="11.34">1</text><text transform="translate(429.58,450.6) scale(1.0,1)" font-size="11.34">8</text><text transform="translate(436.94,450.6) scale(1.0,1)" font-size="11.34">0</text>
<text transform="translate(380.5,477.9) scale(0.88,1)" font-size="11.05">N</text><circle cx="390.86" cy="472.12" r="1.05" fill="#000"/><text transform="translate(394.51,477.9) scale(1.0,1)" font-size="11.05">8</text><text transform="translate(402.63,477.9) scale(1.0,1)" font-size="11.05">x</text><text transform="translate(410.38,477.9) scale(1.0,1)" font-size="11.05"><tspan font-weight="bold">ø</tspan></text><text transform="translate(418.61,477.9) scale(1.0,1)" font-size="11.05">1</text><text transform="translate(426.28,477.9) scale(1.0,1)" font-size="11.05">9</text>
<line x1="363.6" y1="480.5" x2="445.8" y2="480.5" stroke="#000" stroke-width="1" />
<line x1="363.6" y1="480.5" x2="393.5" y2="359.4" stroke="#000" stroke-width="1" />
<path d="M393.89,359.5 L392.99,368.54 L389.69,367.73 L393.11,359.3 Z" fill="#000"/>
<path d="M395.62,350.28 L396.84,341.77 L400.09,342.76 L396.38,350.52 Z" fill="#000"/>
<line x1="398.4" y1="342.4" x2="400.5" y2="335" stroke="#000" stroke-width="0.9" />
<line x1="392.5" y1="337" x2="392.5" y2="349" stroke="#000" stroke-width="0.9" />
<text transform="translate(568.13,197.7) scale(0.88,1)" font-size="13.37">P</text><text transform="translate(576.71,197.7) scale(0.88,1)" font-size="13.37">N</text><text transform="translate(585.88,197.7) scale(1.0,1)" font-size="13.37">2</text><text transform="translate(594.42,197.7) scale(1.0,1)" font-size="13.37">5</text>
<path d="M541.48,364.97 A48.5,48.5 0 1 1 550.61,377.09" stroke="#000" stroke-width="1" fill="none" />
<path d="M548.14,327.59 A39,39 0 1 1 547.65,355.54" stroke="#000" stroke-width="1" fill="none" />
<path d="M553.52,329.76 A33.2,33.2 0 1 1 553.1,353.56" stroke="#000" stroke-width="1" fill="none" />
<circle cx="584.3" cy="342.2" r="20.7" stroke="#000" stroke-width="1" fill="none" />
<circle cx="599.26" cy="306.08" r="4.6" stroke="#000" stroke-width="1" fill="none" />
<line x1="596.04" y1="307" x2="602.48" y2="305.16" stroke="#000" stroke-width="0.6" />
<line x1="598.34" y1="302.4" x2="600.64" y2="309.76" stroke="#000" stroke-width="0.6" />
<circle cx="620.42" cy="327.24" r="4.6" stroke="#000" stroke-width="1" fill="none" />
<line x1="617.2" y1="328.16" x2="623.64" y2="326.32" stroke="#000" stroke-width="0.6" />
<line x1="619.5" y1="323.56" x2="621.8" y2="330.92" stroke="#000" stroke-width="0.6" />
<circle cx="620.42" cy="357.16" r="4.6" stroke="#000" stroke-width="1" fill="none" />
<line x1="617.2" y1="358.08" x2="623.64" y2="356.24" stroke="#000" stroke-width="0.6" />
<line x1="619.5" y1="353.48" x2="621.8" y2="360.84" stroke="#000" stroke-width="0.6" />
<circle cx="599.26" cy="378.32" r="4.6" stroke="#000" stroke-width="1" fill="none" />
<line x1="596.04" y1="379.24" x2="602.48" y2="377.4" stroke="#000" stroke-width="0.6" />
<line x1="598.34" y1="374.64" x2="600.64" y2="382" stroke="#000" stroke-width="0.6" />
<circle cx="569.34" cy="378.32" r="4.6" stroke="#000" stroke-width="1" fill="none" />
<line x1="566.12" y1="379.24" x2="572.56" y2="377.4" stroke="#000" stroke-width="0.6" />
<line x1="568.42" y1="374.64" x2="570.72" y2="382" stroke="#000" stroke-width="0.6" />
<circle cx="548.18" cy="357.16" r="4.6" stroke="#000" stroke-width="1" fill="none" />
<line x1="544.96" y1="358.08" x2="551.4" y2="356.24" stroke="#000" stroke-width="0.6" />
<line x1="547.26" y1="353.48" x2="549.56" y2="360.84" stroke="#000" stroke-width="0.6" />
<circle cx="548.18" cy="327.24" r="4.6" stroke="#000" stroke-width="1" fill="none" />
<line x1="544.96" y1="328.16" x2="551.4" y2="326.32" stroke="#000" stroke-width="0.6" />
<line x1="547.26" y1="323.56" x2="549.56" y2="330.92" stroke="#000" stroke-width="0.6" />
<circle cx="569.34" cy="306.08" r="4.6" stroke="#000" stroke-width="1" fill="none" />
<line x1="566.12" y1="307" x2="572.56" y2="305.16" stroke="#000" stroke-width="0.6" />
<line x1="568.42" y1="302.4" x2="570.72" y2="309.76" stroke="#000" stroke-width="0.6" />
<line x1="533.8" y1="342.5" x2="637.8" y2="342.5" stroke="#000" stroke-width="0.9" stroke-dasharray="22,3,4,3"/>
<line x1="584.5" y1="290.2" x2="584.5" y2="394.2" stroke="#000" stroke-width="0.9" stroke-dasharray="22,3,4,3"/>
<line x1="536.5" y1="226.6" x2="536.5" y2="342" stroke="#000" stroke-width="1" />
<line x1="633.5" y1="227.6" x2="633.5" y2="253.5" stroke="#000" stroke-width="1" />
<line x1="633.5" y1="268.5" x2="633.5" y2="342" stroke="#000" stroke-width="1" />
<line x1="536.6" y1="232.5" x2="633" y2="232.5" stroke="#000" stroke-width="1" />
<path d="M536.6,231.3 L545.9,229.6 L545.9,234.4 L536.6,232.7 Z" fill="#000"/>
<path d="M633,232.7 L623.7,234.4 L623.7,229.6 L633,231.3 Z" fill="#000"/>
<text transform="translate(570.35,231) scale(1.0,1)" font-size="11.63"><tspan font-weight="bold">ø</tspan></text><text transform="translate(578.5,231) scale(1.0,1)" font-size="11.63">2</text><text transform="translate(585.83,231) scale(1.0,1)" font-size="11.63">3</text><text transform="translate(593.22,231) scale(1.0,1)" font-size="11.63">5</text>
<line x1="551.5" y1="256.4" x2="551.5" y2="326" stroke="#000" stroke-width="1" />
<line x1="618.5" y1="256.7" x2="618.5" y2="326" stroke="#000" stroke-width="1" />
<line x1="551.5" y1="260.5" x2="702" y2="260.5" stroke="#000" stroke-width="1" />
<path d="M551.5,259.9 L560.8,258.2 L560.8,263 L551.5,261.3 Z" fill="#000"/>
<path d="M618.2,261.3 L608.9,263 L608.9,258.2 L618.2,259.9 Z" fill="#000"/>
<text transform="translate(641.94,259.4) scale(1.0,1)" font-size="12.21"><tspan font-weight="bold">ø</tspan></text><text transform="translate(650.32,259.4) scale(1.0,1)" font-size="12.21">1</text><text transform="translate(658.16,259.4) scale(1.0,1)" font-size="12.21">5</text><text transform="translate(665.95,259.4) scale(1.0,1)" font-size="12.21">6</text><text transform="translate(679.99,259.4) scale(1.0,1)" font-size="12.21">(</text><text transform="translate(685.57,259.4) scale(0.88,1)" font-size="12.21">G</text><text transform="translate(695.19,259.4) scale(1.0,1)" font-size="12.21">)</text>
<text transform="translate(642.54,273.9) scale(1.0,1)" font-size="12.21"><tspan font-weight="bold">ø</tspan></text><text transform="translate(651.15,273.9) scale(1.0,1)" font-size="12.21">1</text><text transform="translate(659.08,273.9) scale(1.0,1)" font-size="12.21">6</text><text transform="translate(667.08,273.9) scale(1.0,1)" font-size="12.21">2</text><text transform="translate(681.94,273.9) scale(1.0,1)" font-size="12.21">(</text><text transform="translate(687.42,273.9) scale(0.88,1)" font-size="12.21">N</text><text transform="translate(696.59,273.9) scale(1.0,1)" font-size="12.21">)</text>
<line x1="563.5" y1="342" x2="563.5" y2="427" stroke="#000" stroke-width="1" />
<line x1="605.5" y1="342" x2="605.5" y2="427" stroke="#000" stroke-width="1" />
<line x1="545.1" y1="423.5" x2="675.2" y2="423.5" stroke="#000" stroke-width="1" />
<path d="M563.6,424.2 L554.3,425.9 L554.3,421.1 L563.6,422.8 Z" fill="#000"/>
<path d="M605,422.8 L614.3,421.1 L614.3,425.9 L605,424.2 Z" fill="#000"/>
<text transform="translate(636.12,422.5) scale(0.88,1)" font-size="12.21">D</text><text transform="translate(643.98,422.5) scale(0.88,1)" font-size="12.21">N</text><text transform="translate(651.43,422.5) scale(1.0,1)" font-size="12.21">1</text><text transform="translate(658.65,422.5) scale(1.0,1)" font-size="12.21">0</text><text transform="translate(665.99,422.5) scale(1.0,1)" font-size="12.21">0</text>
<line x1="545.5" y1="358" x2="545.5" y2="456.4" stroke="#000" stroke-width="1" />
<line x1="623.5" y1="350" x2="623.5" y2="417" stroke="#000" stroke-width="1" />
<line x1="623.5" y1="433.7" x2="623.5" y2="456.4" stroke="#000" stroke-width="1" />
<line x1="545.5" y1="451.5" x2="623.9" y2="451.5" stroke="#000" stroke-width="1" />
<path d="M545.5,450.9 L554.8,449.2 L554.8,454 L545.5,452.3 Z" fill="#000"/>
<path d="M623.9,452.3 L614.6,454 L614.6,449.2 L623.9,450.9 Z" fill="#000"/>
<text transform="translate(570.34,450.9) scale(1.0,1)" font-size="12.06"><tspan font-weight="bold">ø</tspan></text><text transform="translate(578.12,450.9) scale(1.0,1)" font-size="12.06">1</text><text transform="translate(585.29,450.9) scale(1.0,1)" font-size="12.06">9</text><text transform="translate(592.56,450.9) scale(1.0,1)" font-size="12.06">0</text>
<text transform="translate(537.1,477.9) scale(0.88,1)" font-size="11.05">N</text><circle cx="547.31" cy="472.12" r="1.05" fill="#000"/><text transform="translate(550.81,477.9) scale(1.0,1)" font-size="11.05">8</text><text transform="translate(558.78,477.9) scale(1.0,1)" font-size="11.05">x</text><text transform="translate(566.37,477.9) scale(1.0,1)" font-size="11.05"><tspan font-weight="bold">ø</tspan></text><text transform="translate(574.74,477.9) scale(1.0,1)" font-size="11.05">2</text><text transform="translate(582.34,477.9) scale(1.0,1)" font-size="11.05">3</text>
<line x1="519" y1="480.5" x2="598.3" y2="480.5" stroke="#000" stroke-width="1" />
<line x1="519" y1="480.8" x2="547.8" y2="361.5" stroke="#000" stroke-width="1" />
<path d="M548.19,361.6 L547.29,370.64 L543.99,369.83 L547.41,361.4 Z" fill="#000"/>
<path d="M549.52,352.08 L550.83,343.58 L554.07,344.6 L550.28,352.32 Z" fill="#000"/>
<line x1="552.4" y1="344" x2="554.5" y2="336.5" stroke="#000" stroke-width="0.9" />
<line x1="546.5" y1="337" x2="546.5" y2="351" stroke="#000" stroke-width="0.9" />
<rect x="710" y="300" width="2" height="252" fill="#efefef"/>
<text transform="translate(708.6,539.5) rotate(-90)" x="0" y="0" font-size="10.6" stroke="#000" stroke-width="0.35" textLength="62.5" lengthAdjust="spacing">05107<tspan dy="-1.8">_</tspan><tspan dy="1.8">D</tspan><tspan dy="-1.8">_</tspan><tspan dy="1.8">DD</tspan></text>
</svg>
</body></html>
